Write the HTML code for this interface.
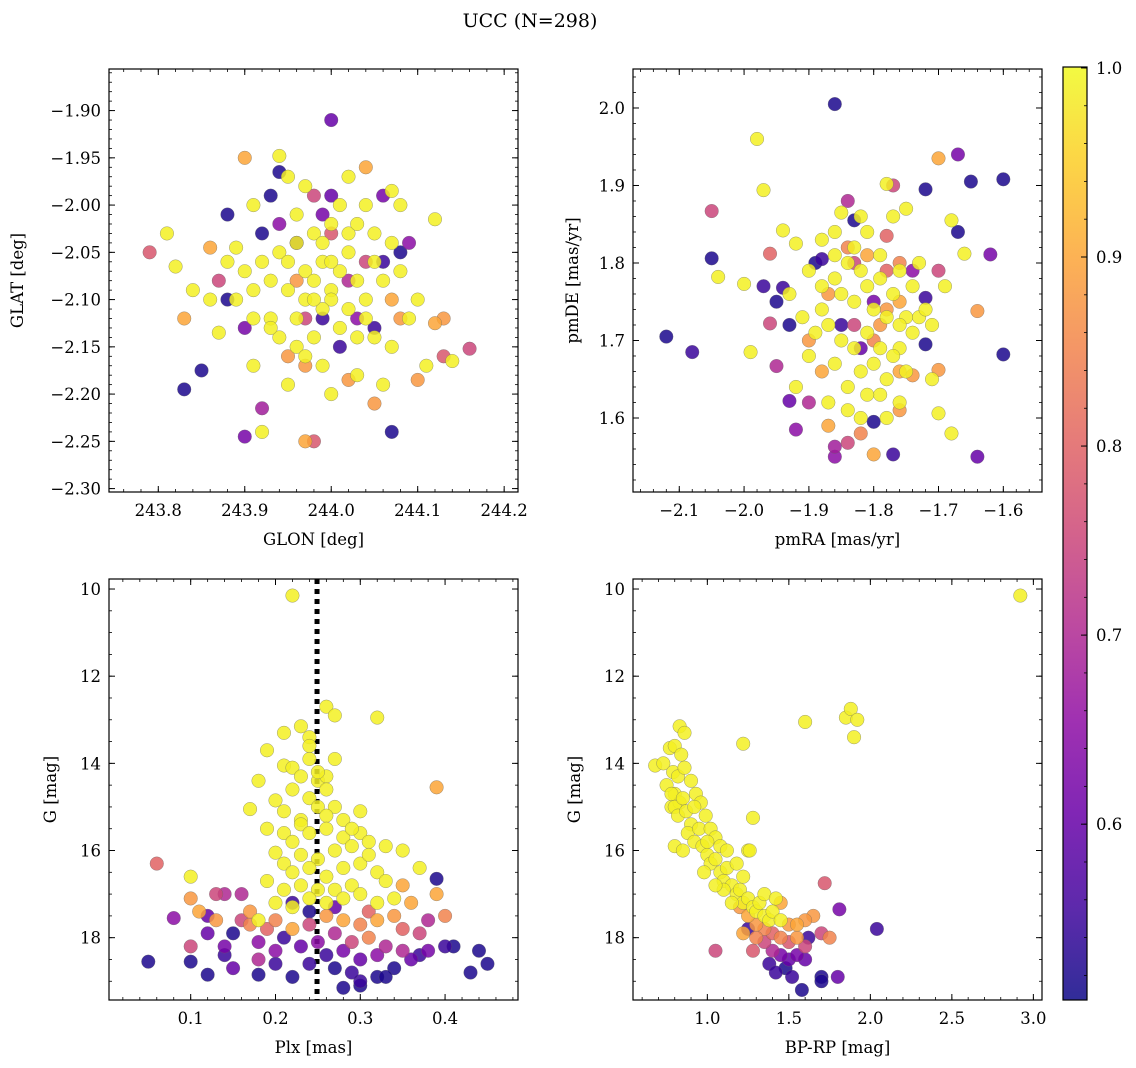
<!DOCTYPE html>
<html><head><meta charset="utf-8">
<style>
html,body{margin:0;padding:0;background:#fff;}
svg{display:block;font-family:"DejaVu Serif","Liberation Serif",serif;}
</style></head>
<body>
<svg id="fig" width="1136" height="1068" viewBox="0 0 1136 1068" xmlns="http://www.w3.org/2000/svg">
<text x="530" y="27" font-size="19" text-anchor="middle">UCC (N=298)</text>
</svg>
<script>
// ---- data ([x, y, membership]) ----
const glonGlat = [
[243.79,-2.05,0.78],[243.81,-2.03,0.99],[243.82,-2.065,0.99],[243.83,-2.12,0.9],[243.83,-2.195,0.52],[243.85,-2.175,0.52],
[243.86,-2.045,0.9],[243.87,-2.08,0.75],[243.87,-2.135,0.99],[243.88,-2.01,0.52],[243.88,-2.1,0.52],[243.89,-2.045,0.99],
[243.9,-1.95,0.9],[243.9,-2.245,0.62],[243.91,-2.0,0.99],[243.91,-2.17,0.99],[243.92,-2.24,0.99],[243.92,-2.215,0.68],
[243.93,-2.12,0.99],[243.93,-1.99,0.52],[243.94,-1.965,0.52],[243.94,-1.948,0.99],[243.95,-2.19,0.99],[244.0,-1.91,0.6],
[243.98,-2.25,0.78],[243.97,-2.25,0.9],[244.02,-1.97,0.99],[244.04,-1.96,0.9],[244.06,-1.99,0.62],[244.07,-1.985,0.99],
[244.08,-2.0,0.99],[244.09,-2.04,0.65],[244.12,-2.015,0.99],[244.12,-2.125,0.9],[244.13,-2.12,0.88],[244.13,-2.16,0.78],
[244.14,-2.165,0.99],[244.16,-2.152,0.75],[244.07,-2.24,0.52],[244.05,-2.21,0.88],[244.02,-2.185,0.88],[244.06,-2.19,0.99],
[244.1,-2.185,0.88],[244.11,-2.17,0.99],[244.0,-2.2,0.99],[244.03,-2.18,0.99],
[243.94,-2.05,0.99],[243.95,-2.06,0.99],[243.96,-2.04,0.99],[243.97,-2.07,0.99],[243.98,-2.08,0.99],[243.99,-2.06,0.99],
[244.0,-2.09,0.99],[244.01,-2.07,0.99],[244.02,-2.05,0.99],[244.03,-2.08,0.99],[244.0,-2.1,0.99],[243.99,-2.11,0.99],
[243.97,-2.1,0.99],[243.96,-2.12,0.99],[243.95,-2.09,0.99],[243.93,-2.08,0.99],[243.92,-2.06,0.99],[243.91,-2.09,0.99],
[243.9,-2.07,0.99],[243.89,-2.1,0.99],[244.04,-2.1,0.99],[244.05,-2.06,0.99],[244.06,-2.08,0.99],[244.04,-2.12,0.99],
[244.03,-2.14,0.99],[244.01,-2.13,0.99],[243.98,-2.14,0.99],[243.96,-2.15,0.99],[243.94,-2.14,0.99],[244.02,-2.03,0.99],
[244.0,-2.02,0.99],[243.98,-2.03,0.99],[243.96,-2.01,0.99],[243.95,-1.97,0.99],[243.97,-1.98,0.99],[244.01,-2.0,0.99],
[244.03,-2.02,0.99],[244.07,-2.04,0.99],[244.08,-2.07,0.99],[244.1,-2.1,0.99],[244.09,-2.12,0.99],[244.07,-2.15,0.99],
[244.05,-2.14,0.99],[243.99,-2.17,0.99],[243.97,-2.16,0.99],[243.93,-2.13,0.99],[243.91,-2.12,0.99],[243.88,-2.06,0.99],
[243.86,-2.1,0.99],[243.84,-2.09,0.99],[243.99,-2.04,0.99],[244.0,-2.06,0.99],[243.98,-2.1,0.99],[244.02,-2.11,0.99],
[244.05,-2.03,0.99],[244.04,-2.0,0.99],
[243.98,-1.99,0.75],[243.99,-2.01,0.62],[244.0,-2.03,0.78],[243.96,-2.04,0.55],[244.02,-2.08,0.7],[244.06,-2.06,0.55],
[244.08,-2.05,0.52],[244.04,-2.06,0.75],[244.01,-2.15,0.55],[244.05,-2.13,0.55],[243.97,-2.12,0.75],[243.94,-2.02,0.65],
[243.92,-2.03,0.52],[243.9,-2.13,0.62],[244.03,-2.12,0.65],[243.96,-2.08,0.88],[244.07,-2.1,0.9],[243.99,-2.12,0.55],
[244.0,-1.99,0.6],[243.97,-2.17,0.88],[243.95,-2.16,0.88],[244.08,-2.12,0.88]
];
const pmraPmde = [
[-2.12,1.705,0.52],[-2.08,1.685,0.55],[-2.05,1.867,0.75],[-2.05,1.806,0.52],[-2.04,1.782,0.99],[-1.98,1.96,0.99],
[-1.97,1.894,0.99],[-1.96,1.812,0.8],[-1.94,1.842,0.99],[-1.97,1.77,0.55],[-2.0,1.773,0.99],[-1.99,1.685,0.99],
[-1.96,1.722,0.75],[-1.95,1.75,0.52],[-1.93,1.72,0.52],[-1.92,1.825,0.99],[-1.94,1.768,0.55],[-1.95,1.667,0.7],
[-1.92,1.64,0.99],[-1.92,1.585,0.65],[-1.93,1.622,0.6],[-1.9,1.62,0.7],[-1.86,2.005,0.52],[-1.84,1.88,0.7],
[-1.83,1.855,0.52],[-1.85,1.865,0.99],[-1.78,1.902,0.99],[-1.77,1.9,0.75],[-1.78,1.835,0.8],[-1.72,1.895,0.52],
[-1.7,1.935,0.9],[-1.67,1.94,0.62],[-1.65,1.905,0.52],[-1.6,1.908,0.52],[-1.68,1.855,0.99],[-1.67,1.84,0.52],
[-1.66,1.812,0.99],[-1.62,1.811,0.62],[-1.64,1.738,0.88],[-1.6,1.682,0.52],[-1.64,1.55,0.6],[-1.68,1.58,0.99],
[-1.7,1.606,0.99],[-1.71,1.65,0.99],[-1.7,1.662,0.88],[-1.72,1.695,0.52],[-1.76,1.61,0.88],[-1.77,1.553,0.55],
[-1.8,1.553,0.9],[-1.84,1.568,0.75],[-1.86,1.55,0.65],[-1.86,1.563,0.68],[-1.87,1.59,0.9],[-1.8,1.595,0.52],
[-1.82,1.58,0.85],[-1.79,1.63,0.99],[-1.82,1.6,0.99],[-1.74,1.655,0.88],[-1.76,1.69,0.99],[-1.75,1.73,0.99],
[-1.72,1.755,0.55],[-1.73,1.8,0.99],[-1.7,1.79,0.75],[-1.69,1.77,0.99],[-1.88,1.805,0.55],[-1.89,1.8,0.52],
[-1.9,1.79,0.99],[-1.88,1.77,0.99],[-1.86,1.78,0.99],[-1.85,1.76,0.99],[-1.83,1.75,0.99],[-1.81,1.77,0.99],
[-1.8,1.74,0.99],[-1.78,1.73,0.99],[-1.76,1.72,0.99],[-1.74,1.71,0.99],[-1.73,1.73,0.99],[-1.77,1.76,0.99],
[-1.79,1.78,0.99],[-1.82,1.79,0.99],[-1.84,1.8,0.99],[-1.86,1.81,0.99],[-1.88,1.74,0.99],[-1.87,1.72,0.99],
[-1.85,1.7,0.99],[-1.83,1.69,0.99],[-1.81,1.71,0.99],[-1.79,1.69,0.99],[-1.77,1.68,0.99],[-1.75,1.66,0.99],
[-1.78,1.65,0.99],[-1.8,1.67,0.99],[-1.82,1.66,0.99],[-1.84,1.64,0.99],[-1.86,1.67,0.99],[-1.89,1.71,0.99],
[-1.91,1.73,0.99],[-1.93,1.76,0.99],[-1.9,1.68,0.99],[-1.83,1.82,0.99],[-1.81,1.84,0.99],[-1.79,1.81,0.99],
[-1.76,1.79,0.99],[-1.74,1.77,0.99],[-1.72,1.74,0.99],[-1.71,1.72,0.99],[-1.76,1.62,0.99],[-1.78,1.6,0.99],
[-1.84,1.61,0.99],[-1.87,1.62,0.99],[-1.81,1.63,0.99],[-1.82,1.86,0.99],[-1.86,1.84,0.99],[-1.88,1.83,0.99],
[-1.77,1.86,0.99],[-1.75,1.87,0.99],
[-1.84,1.82,0.85],[-1.83,1.8,0.75],[-1.81,1.81,0.9],[-1.8,1.75,0.62],[-1.78,1.74,0.88],[-1.76,1.8,0.85],
[-1.85,1.72,0.55],[-1.83,1.72,0.75],[-1.79,1.72,0.88],[-1.76,1.75,0.9],[-1.87,1.76,0.88],[-1.82,1.69,0.6],
[-1.8,1.7,0.85],[-1.76,1.66,0.9],[-1.88,1.66,0.9],[-1.9,1.7,0.88],[-1.78,1.79,0.8],[-1.74,1.79,0.65]
];
const plxG = [
[0.22,10.15,0.99],[0.26,12.7,0.99],[0.27,12.9,0.99],[0.32,12.95,0.99],[0.23,13.15,0.99],[0.24,13.4,0.99],[0.24,13.6,0.99],
[0.21,13.3,0.99],[0.19,13.7,0.99],[0.39,14.55,0.9],[0.21,14.05,0.99],[0.22,14.1,0.99],[0.18,14.4,0.99],[0.25,14.4,0.99],
[0.26,14.3,0.99],[0.2,14.85,0.99],[0.27,15.0,0.99],[0.23,15.3,0.99],[0.17,15.05,0.99],[0.3,15.6,0.99],[0.33,15.9,0.99],
[0.31,15.8,0.99],[0.35,16.0,0.99],[0.37,16.4,0.99],[0.2,16.05,0.99],[0.06,16.3,0.8],[0.1,16.6,0.99],[0.13,17.0,0.75],
[0.1,17.1,0.88],[0.08,17.55,0.65],[0.05,18.55,0.52],[0.1,18.55,0.52],[0.12,18.85,0.52],[0.1,18.2,0.75],[0.12,17.5,0.6],
[0.14,17.0,0.7],[0.16,17.0,0.7],[0.17,17.4,0.88],[0.15,17.9,0.52],[0.14,18.4,0.55],[0.15,18.7,0.6],[0.18,18.5,0.7],
[0.18,18.85,0.52],[0.2,18.3,0.65],[0.22,18.9,0.52],[0.28,19.15,0.52],[0.3,19.0,0.55],[0.32,18.9,0.52],[0.34,18.7,0.52],
[0.37,18.4,0.55],[0.4,18.2,0.55],[0.41,18.2,0.52],[0.43,18.8,0.52],[0.44,18.3,0.52],[0.45,18.6,0.52],[0.39,16.65,0.52],
[0.39,17.0,0.9],[0.38,17.6,0.7],[0.35,17.8,0.8],[0.36,17.2,0.9],[0.35,16.8,0.9],
[0.22,14.6,0.99],[0.24,14.8,0.99],[0.25,15.0,0.99],[0.26,15.2,0.99],[0.23,15.4,0.99],[0.21,15.6,0.99],[0.22,15.8,0.99],
[0.24,15.6,0.99],[0.26,15.5,0.99],[0.28,15.7,0.99],[0.29,15.9,0.99],[0.27,16.0,0.99],[0.25,16.2,0.99],[0.23,16.1,0.99],
[0.21,16.3,0.99],[0.22,16.5,0.99],[0.24,16.4,0.99],[0.26,16.6,0.99],[0.28,16.4,0.99],[0.3,16.3,0.99],[0.31,16.1,0.99],
[0.32,16.5,0.99],[0.33,16.7,0.99],[0.29,16.8,0.99],[0.27,16.9,0.99],[0.25,16.9,0.99],[0.23,16.8,0.99],[0.21,16.9,0.99],
[0.2,17.2,0.99],[0.22,17.3,0.99],[0.24,17.1,0.99],[0.26,17.2,0.99],[0.28,17.1,0.99],[0.3,17.0,0.99],[0.32,17.2,0.99],
[0.34,17.1,0.99],[0.19,16.7,0.99],[0.18,17.6,0.99],[0.25,14.2,0.99],[0.26,14.6,0.99],[0.28,15.3,0.99],[0.3,15.1,0.99],
[0.23,14.3,0.99],[0.21,15.1,0.99],[0.19,15.5,0.99],[0.27,13.9,0.99],[0.24,13.9,0.99],[0.29,15.5,0.99],
[0.2,17.6,0.85],[0.22,17.8,0.9],[0.24,17.7,0.75],[0.26,17.5,0.88],[0.28,17.6,0.9],[0.3,17.7,0.85],[0.32,17.6,0.9],
[0.34,17.5,0.88],[0.27,17.9,0.7],[0.29,18.1,0.75],[0.31,18.0,0.85],[0.33,18.2,0.7],[0.25,18.1,0.65],[0.23,18.2,0.6],
[0.21,18.0,0.55],[0.19,17.8,0.8],[0.17,17.7,0.85],[0.16,17.6,0.75],[0.18,18.1,0.65],[0.26,18.4,0.55],[0.28,18.3,0.62],
[0.3,18.5,0.6],[0.32,18.4,0.65],[0.35,18.3,0.7],[0.36,18.5,0.6],[0.24,18.6,0.55],[0.22,17.2,0.55],[0.24,17.4,0.52],
[0.27,17.3,0.6],[0.31,17.4,0.8],[0.13,17.6,0.88],[0.11,17.4,0.9],[0.12,17.9,0.6],[0.14,18.2,0.62],[0.29,18.8,0.55],
[0.27,18.7,0.52],[0.33,18.9,0.52],[0.2,18.6,0.55],[0.38,18.3,0.62],[0.37,17.9,0.75],[0.4,17.5,0.85],[0.3,19.1,0.52]
];
const bprpG = [
[0.68,14.05,0.99],[0.73,14.0,0.99],[0.77,13.65,0.99],[0.8,13.6,0.99],[0.83,13.15,0.99],[0.86,13.3,0.99],[0.79,14.2,0.99],
[0.8,14.7,0.99],[0.78,15.0,0.99],[0.83,14.9,0.99],[1.22,13.55,0.99],[1.6,13.05,0.99],[1.85,12.95,0.99],[1.88,12.75,0.99],
[1.92,13.0,0.99],[1.9,13.4,0.99],[2.92,10.15,0.99],[1.28,15.25,0.99],[1.25,16.0,0.99],[1.72,16.75,0.78],[1.81,17.35,0.62],
[2.04,17.8,0.55],[1.05,18.3,0.75],
[0.75,14.5,0.99],[0.78,14.7,0.99],[0.8,15.0,0.99],[0.82,15.2,0.99],[0.85,14.8,0.99],[0.87,15.1,0.99],[0.9,15.4,0.99],
[0.88,15.6,0.99],[0.92,15.8,0.99],[0.95,15.5,0.99],[0.97,15.9,0.99],[1.0,16.1,0.99],[1.02,16.3,0.99],[1.05,16.2,0.99],
[1.08,16.5,0.99],[1.1,16.7,0.99],[1.12,16.4,0.99],[1.15,16.8,0.99],[1.18,17.0,0.99],[1.2,16.9,0.99],[1.22,17.2,0.99],
[1.25,17.1,0.99],[1.28,17.3,0.99],[1.3,17.4,0.99],[1.32,17.2,0.99],[1.35,17.5,0.99],[1.38,17.6,0.99],[1.4,17.4,0.99],
[1.45,17.6,0.99],[0.82,14.3,0.99],[0.84,13.8,0.99],[0.86,14.1,0.99],[0.9,14.4,0.99],[0.93,14.7,0.99],[0.96,14.9,0.99],
[0.99,15.2,0.99],[1.02,15.5,0.99],[1.05,15.7,0.99],[1.08,15.9,0.99],[0.92,15.0,0.99],[0.8,15.9,0.99],[0.85,16.0,0.99],
[1.0,15.8,0.99],[1.12,16.0,0.99],[1.18,16.3,0.99],[1.22,16.6,0.99],[1.26,16.0,0.99],[1.1,16.9,0.99],[1.15,17.2,0.99],
[1.05,16.8,0.99],[0.98,16.5,0.99],
[1.2,17.3,0.88],[1.25,17.5,0.9],[1.3,17.7,0.88],[1.35,17.8,0.85],[1.4,17.9,0.8],[1.45,18.0,0.85],[1.5,18.1,0.78],
[1.55,18.0,0.88],[1.6,18.2,0.75],[1.35,18.1,0.75],[1.4,18.3,0.7],[1.45,18.4,0.62],[1.5,18.5,0.6],[1.55,18.4,0.62],
[1.6,18.5,0.6],[1.38,18.6,0.55],[1.42,18.8,0.55],[1.48,18.7,0.52],[1.52,18.9,0.55],[1.58,19.2,0.52],[1.7,18.9,0.52],
[1.7,19.0,0.52],[1.8,18.9,0.6],[1.65,17.5,0.88],[1.7,17.9,0.75],[1.75,18.0,0.85],[1.25,17.8,0.55],[1.3,18.0,0.85],
[1.22,17.9,0.9],[1.28,18.3,0.78],[1.55,17.7,0.9],[1.6,17.6,0.88],[1.62,18.0,0.55],[1.5,17.7,0.88],[1.45,17.2,0.9],
[1.35,17.0,0.99],[1.42,17.1,0.99]
];
const plxLine = [0.249];
const glonTicks = [243.8,243.9,244.0,244.1,244.2];
const glatTicks = [-1.90,-1.95,-2.00,-2.05,-2.10,-2.15,-2.20,-2.25,-2.30];
const pmraTicks = [-2.1,-2.0,-1.9,-1.8,-1.7,-1.6];
const pmdeTicks = [1.6,1.7,1.8,1.9,2.0];
const plxTicks = [0.1,0.2,0.3,0.4];
const gTicks = [10,12,14,16,18];
const bprpTicks = [1.0,1.5,2.0,2.5,3.0];
const cbarTicks = [0.6,0.7,0.8,0.9,1.0];

// ---- rendering ----
const NS="http://www.w3.org/2000/svg";
const svg=document.getElementById('fig');
function mk(tag,attrs,parent){const e=document.createElementNS(NS,tag);for(const k in attrs)e.setAttribute(k,attrs[k]);(parent||svg).appendChild(e);return e;}
const VMIN=0.507,VMAX=1.0005;
const plasma=["#0d0887","#41049d","#6a00a8","#8f0da4","#b12a90","#cc4778","#e16462","#f2844b","#fca636","#fcce25","#f0f921"];
function hex(h){return [1,3,5].map(i=>parseInt(h.substr(i,2),16));}
function cmap(v){let t=(v-VMIN)/(VMAX-VMIN);t=Math.max(0,Math.min(1,t));const s=t*10,i=Math.min(9,Math.floor(s)),f=s-i;
 const a=hex(plasma[i]),b=hex(plasma[i+1]);return 'rgb('+a.map((x,j)=>Math.round(x+(b[j]-x)*f)).join(',')+')';}
function fmt(v,d){return (v<0?'\u2212':'')+Math.abs(v).toFixed(d);}

function panel(o){
 const g=mk('g',{});  
 const sx=v=>o.x0+(v-o.xmin)/(o.xmax-o.xmin)*(o.x1-o.x0);
 const sy=v=>o.inv? o.y0+(v-o.ymin)/(o.ymax-o.ymin)*(o.y1-o.y0) : o.y1-(v-o.ymin)/(o.ymax-o.ymin)*(o.y1-o.y0);
 const clipId=o.name+'-clip';
 const cp=mk('clipPath',{id:clipId},g); mk('rect',{x:o.x0,y:o.y0,width:o.x1-o.x0,height:o.y1-o.y0},cp);
 const pts=mk('g',{'clip-path':'url(#'+clipId+')'},g);
 if(o.vline){o.vline.forEach(v=>{const l=mk('line',{x1:sx(v),x2:sx(v),y1:o.y0,y2:o.y1,stroke:'#000','stroke-width':5,'stroke-dasharray':'5,5'},pts);
    });}
 const data=o.data.slice().sort((a,b)=>a[2]-b[2]);
 data.forEach(p=>{const c=mk('circle',{cx:sx(p[0]),cy:sy(p[1]),r:6.8,fill:cmap(p[2]),'fill-opacity':0.85,stroke:'#666','stroke-width':0.4,'stroke-opacity':0.8},pts);
    });
 mk('rect',{x:o.x0,y:o.y0,width:o.x1-o.x0,height:o.y1-o.y0,fill:'none',stroke:'#000','stroke-width':1.2},g);
 for(let v=Math.ceil(o.xmin/o.xminor)*o.xminor; v<=o.xmax; v+=o.xminor){const X=sx(v);
   mk('line',{x1:X,x2:X,y1:o.y1,y2:o.y1-3,stroke:'#000','stroke-width':0.8},g);mk('line',{x1:X,x2:X,y1:o.y0,y2:o.y0+3,stroke:'#000','stroke-width':0.8},g);}
 for(let v=Math.ceil(o.ymin/o.yminor)*o.yminor; v<=o.ymax; v+=o.yminor){const Y=sy(v);
   mk('line',{x1:o.x0,x2:o.x0+3,y1:Y,y2:Y,stroke:'#000','stroke-width':0.8},g);mk('line',{x1:o.x1,x2:o.x1-3,y1:Y,y2:Y,stroke:'#000','stroke-width':0.8},g);}
 o.xt.forEach(v=>{const X=sx(v);
   mk('line',{x1:X,x2:X,y1:o.y1,y2:o.y1-6,stroke:'#000','stroke-width':1},g);mk('line',{x1:X,x2:X,y1:o.y0,y2:o.y0+6,stroke:'#000','stroke-width':1},g);
   const t=mk('text',{x:X,y:o.y1+24,'font-size':16.5,'text-anchor':'middle'},g);t.textContent=fmt(v,o.xd);
    });
 o.yt.forEach(v=>{const Y=sy(v);
   mk('line',{x1:o.x0,x2:o.x0+6,y1:Y,y2:Y,stroke:'#000','stroke-width':1},g);mk('line',{x1:o.x1,x2:o.x1-6,y1:Y,y2:Y,stroke:'#000','stroke-width':1},g);
   const t=mk('text',{x:o.x0-8,y:Y+6,'font-size':16.5,'text-anchor':'end'},g);t.textContent=fmt(v,o.yd);
    });
 const xl=mk('text',{x:(o.x0+o.x1)/2,y:o.y1+53,'font-size':16.5,'text-anchor':'middle'},g);xl.textContent=o.xlabel;
  
 const yc=(o.y0+o.y1)/2;
 const yl=mk('text',{x:o.ylx,y:yc,'font-size':16.5,'text-anchor':'middle',transform:'rotate(-90 '+o.ylx+' '+yc+')'},g);yl.textContent=o.ylabel;
  
}

panel({name:'glon-glat-panel',data:glonGlat,x0:109,x1:518,y0:69,y1:492,xmin:243.743,xmax:244.216,ymin:-2.3036,ymax:-1.856,
 xt:glonTicks,yt:glatTicks,xd:1,yd:2,xminor:0.02,yminor:0.01,xlabel:'GLON [deg]',ylabel:'GLAT [deg]',ylx:23});
panel({name:'pm-panel',data:pmraPmde,x0:633,x1:1042,y0:69,y1:492,xmin:-2.1714,xmax:-1.5403,ymin:1.5045,ymax:2.0503,
 xt:pmraTicks,yt:pmdeTicks,xd:1,yd:1,xminor:0.02,yminor:0.02,xlabel:'pmRA [mas/yr]',ylabel:'pmDE [mas/yr]',ylx:578});
panel({name:'plx-g-panel',data:plxG,vline:plxLine,x0:109,x1:518,y0:579,y1:1000,xmin:0.00366,xmax:0.486,ymin:9.77,ymax:19.43,inv:true,
 xt:plxTicks,yt:gTicks,xd:1,yd:0,xminor:0.02,yminor:0.5,xlabel:'Plx [mas]',ylabel:'G [mag]',ylx:56});
panel({name:'cmd-panel',data:bprpG,x0:633,x1:1042,y0:579,y1:1000,xmin:0.544,xmax:3.053,ymin:9.77,ymax:19.43,inv:true,
 xt:bprpTicks,yt:gTicks,xd:1,yd:0,xminor:0.1,yminor:0.5,xlabel:'BP-RP [mag]',ylabel:'G [mag]',ylx:580});

(function(){
 const g=mk('g',{});  
 const defs=mk('defs',{},g); const lg=mk('linearGradient',{id:'cbg',x1:0,y1:1,x2:0,y2:0},defs);
 plasma.forEach((c,i)=>mk('stop',{offset:i/10,'stop-color':c},lg));
 const x0=1063,x1=1087,y0=67,y1=1000;
 mk('rect',{x:x0,y:y0,width:x1-x0,height:y1-y0,fill:'url(#cbg)','fill-opacity':0.85},g);
 mk('rect',{x:x0,y:y0,width:x1-x0,height:y1-y0,fill:'none',stroke:'#000','stroke-width':1.2},g);
 const sy=v=>y1-(v-VMIN)/(VMAX-VMIN)*(y1-y0);
 for(let v=0.52;v<=1.0001;v+=0.02){const Y=sy(v);mk('line',{x1:x1,x2:x1-3,y1:Y,y2:Y,stroke:'#000','stroke-width':0.8},g);}
 cbarTicks.forEach(v=>{const Y=sy(v);mk('line',{x1:x1,x2:x1-6,y1:Y,y2:Y,stroke:'#000','stroke-width':1},g);
  const t=mk('text',{x:x1+9,y:Y+6,'font-size':16.5},g);t.textContent=v.toFixed(1);
   });
})();
</script>
</body></html>
